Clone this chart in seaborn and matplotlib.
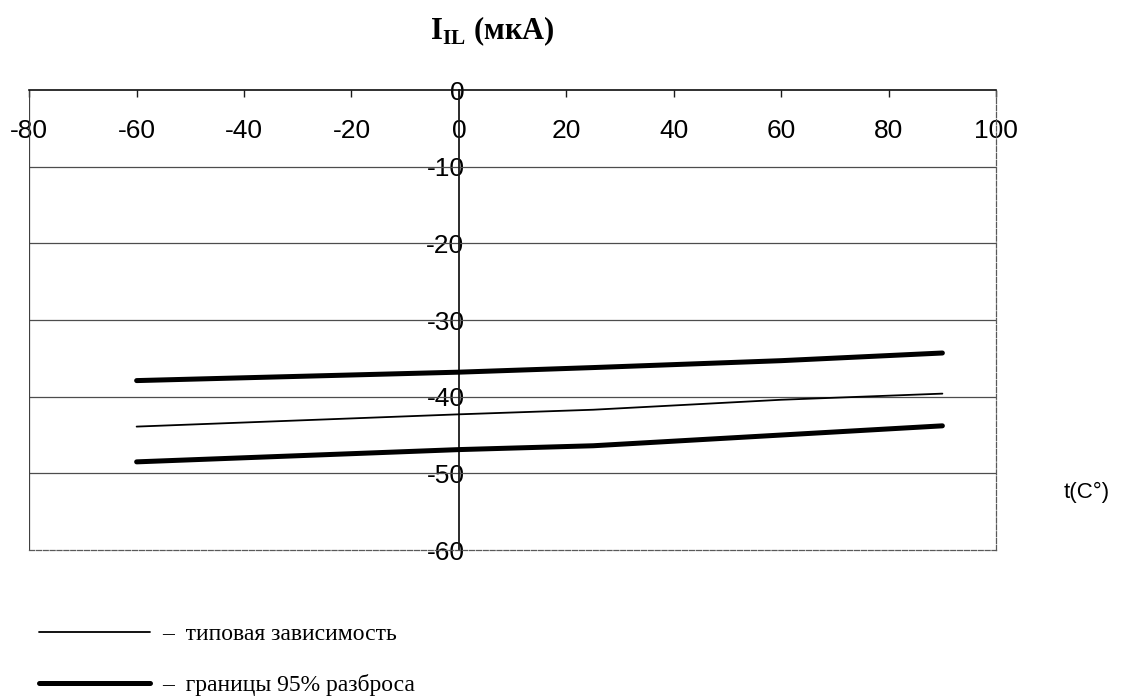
import numpy as np
import pandas as pd
import seaborn as sns
import matplotlib.pyplot as plt
from matplotlib.lines import Line2D

# values
temps = [-60, 0, 25, 60, 90]
upper = [-37.9, -36.8, -36.2, -35.3, -34.3]
typical = [-43.9, -42.3, -41.7, -40.4, -39.6]
lower = [-48.5, -46.9, -46.4, -45.0, -43.8]
xticks = [-80, -60, -40, -20, 0, 20, 40, 60, 80, 100]
yticks = [0, -10, -20, -30, -40, -50, -60]

sns.set_theme(style="white")
plt.rcParams['font.family'] = ['Liberation Sans', 'DejaVu Sans']
plt.rcParams['mathtext.fontset'] = 'custom'
plt.rcParams['mathtext.rm'] = 'Liberation Serif:bold'
plt.rcParams['axes.unicode_minus'] = False
plt.rcParams['text.color'] = 'black'
plt.rcParams['xtick.color'] = 'black'
plt.rcParams['ytick.color'] = 'black'

fig = plt.figure(figsize=(11.23, 6.98), dpi=100)
ax = fig.add_axes([0.026, 0.212, 0.861, 0.659])

for yv in yticks[1:-1]:
    ax.axhline(yv, color='0.3', lw=0.9, zorder=1)

sns.lineplot(x=temps, y=typical, color='black', lw=1.3, ax=ax, zorder=3)
sns.lineplot(x=temps, y=upper, color='black', lw=3.6, ax=ax, zorder=3)
sns.lineplot(x=temps, y=lower, color='black', lw=3.6, ax=ax, zorder=3)

ax.set_xlim(-80, 100)
ax.set_ylim(-60, 0)
ax.set_xticks(xticks)
ax.set_yticks(yticks)
ax.set_xlabel('')
ax.set_ylabel('')

# frame: y axis through zero, box around the plot
ax.spines['left'].set_position(('data', 0))
ax.spines['left'].set_color('0.1')
ax.spines['left'].set_linewidth(1.3)
ax.spines['top'].set_color('0.05')
ax.spines['top'].set_linewidth(1.2)
for s in ['right', 'bottom']:
    ax.spines[s].set_color('0.35')
    ax.spines[s].set_linewidth(0.9)
    ax.spines[s].set_linestyle((0, (4, 1.5)))
ax.axvline(-80, color='0.25', lw=0.9)

ax.xaxis.set_ticks_position('top')
ax.tick_params(axis='x', direction='in', length=5, width=1, color='0.1',
               pad=-38, labelsize=19, top=True, bottom=False)
ax.tick_params(axis='y', length=0, pad=-4, labelsize=19)
for lab in ax.get_yticklabels():
    lab.set_zorder(5)

fig.text(0.438, 0.955, r'I$_{\mathrm{IL}}$ (мкА)', fontsize=22,
         family='Liberation Serif', weight='bold', ha='center', va='center')
fig.text(0.968, 0.295, 't(C°)', fontsize=16, ha='center', va='center')

handles = [Line2D([], [], color='black', lw=1.3),
           Line2D([], [], color='black', lw=3.6)]
fig.legend(handles, ['–  типовая зависимость', '–  границы 95% разброса'],
           loc='lower left', bbox_to_anchor=(0.016, -0.028), frameon=False,
           handlelength=4.7, handletextpad=0.5, labelspacing=1.25,
           prop={'family': 'Liberation Serif', 'size': 17})

fig.savefig('out.png', dpi=100)
